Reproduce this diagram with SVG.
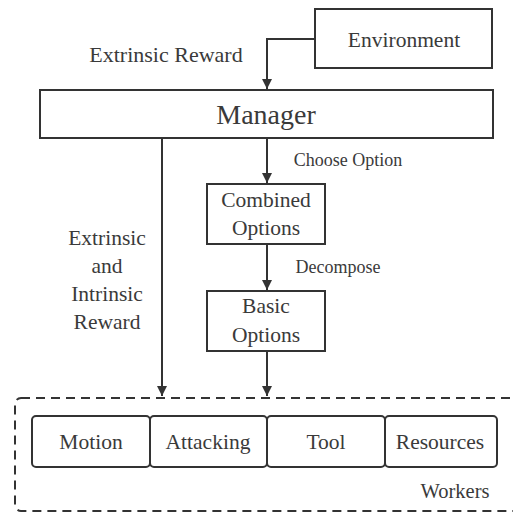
<svg xmlns="http://www.w3.org/2000/svg" width="513" height="514" viewBox="0 0 513 514">
<defs>
<marker id="arr" viewBox="0 0 10 10" refX="10" refY="5" markerWidth="10" markerHeight="11" markerUnits="userSpaceOnUse" orient="auto"><path d="M0,0 L10,5 L0,10 z" fill="#333"/></marker>
<style>
.box{fill:#fff;stroke:#333;stroke-width:2}
.t{fill:#3a3a3a;text-anchor:middle;font-size:21.5px}
.c{fill:none;stroke:#333;stroke-width:2}
</style>
</defs>
<rect width="513" height="514" fill="#fff"/>
<g font-family="'Liberation Serif', 'Times New Roman', 'DejaVu Serif', serif">
<g id="workers">
<rect x="15" y="398" width="510" height="113" rx="6" fill="none" stroke="#333" stroke-width="2" stroke-dasharray="9,6"/>
<text class="t" x="455" y="498" style="font-size:20.5px">Workers</text>
</g>
<g id="environment"><rect class="box" x="315" y="9" width="177" height="59"/><text class="t" x="404" y="47">Environment</text></g>
<g id="manager"><rect class="box" x="40" y="90" width="453" height="48"/><text class="t" x="266" y="124" style="font-size:28px">Manager</text></g>
<g id="combined"><rect class="box" x="207" y="184" width="118" height="60"/><text class="t" x="266" y="207">Combined</text><text class="t" x="266" y="235">Options</text></g>
<g id="basic"><rect class="box" x="207" y="291" width="118" height="60"/><text class="t" x="266" y="313">Basic</text><text class="t" x="266" y="342">Options</text></g>
<g id="motion"><rect class="box" x="32" y="416" width="118" height="51" rx="4"/><text class="t" x="91" y="449">Motion</text></g>
<g id="attacking"><rect class="box" x="150" y="416" width="117" height="51" rx="4"/><text class="t" x="208" y="449">Attacking</text></g>
<g id="tool"><rect class="box" x="267" y="416" width="118" height="51" rx="4"/><text class="t" x="326" y="449">Tool</text></g>
<g id="resources"><rect class="box" x="385" y="416" width="112" height="51" rx="4"/><text class="t" x="440" y="449">Resources</text></g>
<g id="connectors">
<path class="c" d="M315,39 H267 V89" marker-end="url(#arr)"/>
<path class="c" d="M267,138 V183" marker-end="url(#arr)"/>
<path class="c" d="M267,244 V290" marker-end="url(#arr)"/>
<path class="c" d="M267,351 V396" marker-end="url(#arr)"/>
<path class="c" d="M162,138 V396" marker-end="url(#arr)"/>
<text class="t" x="166" y="62" style="font-size:22px">Extrinsic Reward</text>
<text class="t" x="348" y="166" style="font-size:18px">Choose Option</text>
<text class="t" x="338" y="273" style="font-size:18px">Decompose</text>
<text class="t" x="107" y="245">Extrinsic</text>
<text class="t" x="107" y="273">and</text>
<text class="t" x="107" y="301">Intrinsic</text>
<text class="t" x="107" y="329">Reward</text>
</g>
</g>
</svg>
